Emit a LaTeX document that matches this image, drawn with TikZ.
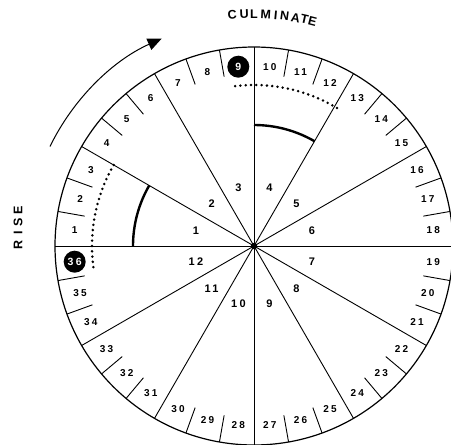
\documentclass[tikz,border=0pt]{standalone}
\usepackage{fontspec}
\setmainfont{Liberation Sans}
\newfontfamily\labfont[LetterSpace=22]{Liberation Sans Bold}
\usetikzlibrary{arrows.meta}
\begin{document}
\begin{tikzpicture}[x=1pt,y=1pt,
  rim/.style={line width=1.2pt},
  spoke/.style={line width=0.9pt},
  tick/.style={line width=0.9pt},
  dotarc/.style={line width=2.8pt,line cap=round,dash pattern=on 0pt off 5.3pt},
  thickarc/.style={line width=2.4pt},
  olab/.style={font=\labfont\fontsize{10}{11}\selectfont,inner sep=0pt},
  ilab/.style={font=\labfont\fontsize{11}{12}\selectfont,inner sep=0pt},
  circlab/.style={circle,fill=black,text=white,minimum size=22pt,inner sep=0pt,font=\labfont\fontsize{10.5}{11}\selectfont},
  word/.style={font=\bfseries\fontsize{12.5}{13}\selectfont,inner sep=0pt}]
\useasboundingbox (0,0) rectangle (451,-445);
\begin{scope}[shift={(254,-246)}]
  \coordinate (O) at (0,0);
  \draw[rim] (O) circle (199);
  % spokes
  \foreach \a in {0,30,...,330}{
    \coordinate (s\a) at (\a:199);
    \draw[spoke] (O) -- (s\a);
  }
  % ticks
  \foreach \a in {10,20,40,50,70,80,100,110,130,140,160,170,190,200,220,230,250,260,280,290,310,320,340,350}{
    \coordinate (ta\a) at (\a:172);
    \coordinate (tb\a) at (\a:199);
    \draw[tick] (ta\a) -- (tb\a);
  }
  % outer labels
  \foreach \k in {1,...,8,10,11,...,35}{
    \node[olab] (o\k) at ({185-10*\k}:180) {\k};
  }
  \node[circlab] (o9) at (95:180) {9};
  \node[circlab] (o36) at (185:180) {36};
  % inner labels
  \foreach \k in {1,...,12}{
    \node[ilab] (i\k) at ({195-30*\k}:60) {\k};
  }
  % dotted arcs
  \draw[dotarc] (150:162) arc[start angle=150,end angle=189,radius=162];
  \draw[dotarc] (59:161) arc[start angle=59,end angle=98,radius=161];
  % thick arcs
  \draw[thickarc] (90:121) arc[start angle=90,end angle=60,radius=121];
  \draw[thickarc] (150:121) arc[start angle=150,end angle=180,radius=121];
  % centre dot
  \fill (O) circle (3.2);
  % arrow
  \coordinate (ar1) at (154:227);
  \draw[line width=1pt,-{Triangle[length=14pt,width=12pt]}] (ar1) arc[start angle=154,end angle=114,radius=227];
  % CULMINATE
  \foreach \ch/\ang [count=\n] in {C/95.4,U/92.45,L/90,M/87.06,I/84.6,N/82.4,A/79.65,T/77.4,E/75.4}{
    \node[word,rotate=\ang-90] (cu\n) at (\ang:232) {\ch};
  }
\end{scope}
% RISE
\node[word,rotate=90] (r1) at (18,-245) {R};
\node[word,rotate=90] (r2) at (18,-233) {I};
\node[word,rotate=90] (r3) at (18,-222) {S};
\node[word,rotate=90] (r4) at (18,-210) {E};
\end{tikzpicture}
\end{document}
